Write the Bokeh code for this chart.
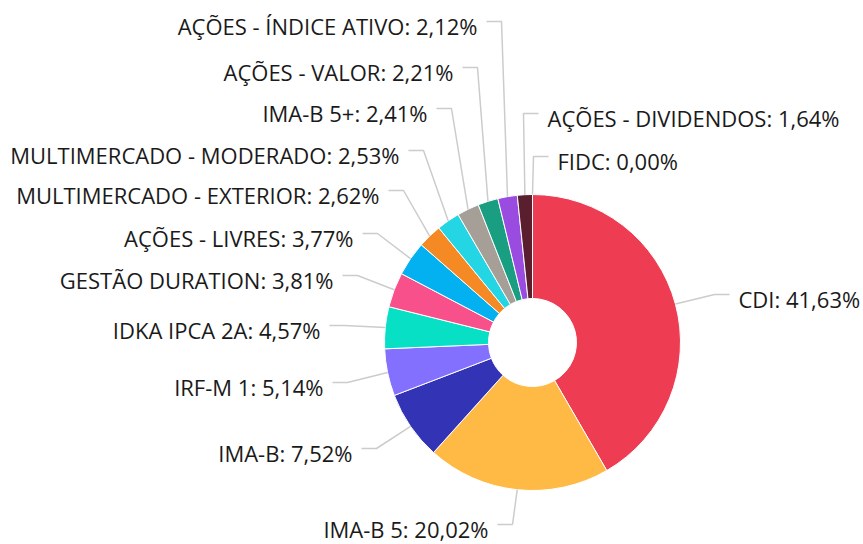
import numpy as np
from bokeh.plotting import figure
from bokeh.models import Range1d, ColumnDataSource
from bokeh.core.properties import value
from bokeh.embed import file_html
from bokeh.resources import INLINE

# ---- data ----
categories = ["CDI", "IMA-B 5", "IMA-B", "IRF-M 1", "IDKA IPCA 2A", "GESTÃO DURATION",
              "AÇÕES - LIVRES", "MULTIMERCADO - EXTERIOR", "MULTIMERCADO - MODERADO",
              "IMA-B 5+", "AÇÕES - VALOR", "AÇÕES - ÍNDICE ATIVO", "AÇÕES - DIVIDENDOS", "FIDC"]
values = [41.63, 20.02, 7.52, 5.14, 4.57, 3.81, 3.77, 2.62, 2.53, 2.41, 2.21, 2.12, 1.64, 0.00]
colors = ["#EE3D53", "#FFBA45", "#3333B5", "#8470FF", "#08E0C6", "#F7508A", "#03B0F0",
          "#F58A25", "#24D5E3", "#A59F98", "#1A9E82", "#9A4BE0", "#5A1F2F", "#000000"]

# ---- label layout (screen px) ----
label_side = ["right", "left", "left", "left", "left", "left", "left", "left", "left",
              "left", "left", "left", "right", "right"]
label_line_y = [294, 524, 448, 382, 325, 275, 233, 190, 150, 108, 67, 21, 113, 156]
label_x = [738, 488, 352, 323, 320, 333, 353, 379, 399, 427, 453, 477, 547, 557]

W, H = 863, 544
CX, CY = 532, 342
R_OUT, R_IN = 148, 44

vals = np.array(values, dtype=float)
total = vals.sum()
cum = np.concatenate([[0], np.cumsum(vals)]) / total
start = np.pi / 2 - 2 * np.pi * cum[:-1]
end = np.pi / 2 - 2 * np.pi * cum[1:]
mid = (start + end) / 2

p = figure(width=W, height=H, output_backend="svg", toolbar_location=None,
           x_range=Range1d(0, W), y_range=Range1d(0, H), min_border=0)
p.axis.visible = False
p.grid.visible = False
p.outline_line_color = None
p.background_fill_color = "white"
p.border_fill_color = "white"

mask = vals > 0
wsrc = ColumnDataSource(dict(start=start[mask], end=end[mask],
                             color=[c for c, m in zip(colors, mask) if m]))
p.annular_wedge(x=CX, y=H - CY, inner_radius=R_IN, outer_radius=R_OUT,
                start_angle="start", end_angle="end", direction="clock",
                fill_color="color", line_color="white", line_width=1, source=wsrc)

xs, ys = [], []
tx, ty, texts, aligns = [], [], [], []
for i, name in enumerate(categories):
    sx = CX + R_OUT * np.cos(mid[i])
    sy = (H - CY) + R_OUT * np.sin(mid[i])
    ly = H - label_line_y[i]
    if label_side[i] == "left":
        c = label_x[i] + 9
        b = c + 15
        aligns.append("right")
    else:
        c = label_x[i] - 9
        b = c - 15
        aligns.append("left")
    xs.append([sx, b, c])
    ys.append([sy, ly, ly])
    tx.append(label_x[i])
    ty.append(ly - 4)
    texts.append(f"{name}: {values[i]:.2f}%".replace(".", ","))

p.multi_line(xs=xs, ys=ys, line_color="#CCCCCC", line_width=1.5)

tsrc = ColumnDataSource(dict(x=tx, y=ty, text=texts, align=aligns))
p.text(x="x", y="y", text="text", text_align="align", text_baseline="middle",
       text_font=value("Open Sans"), text_font_size="22px", text_color="#1A1A1A",
       source=tsrc)

open("out.html", "w").write(file_html(p, INLINE))
